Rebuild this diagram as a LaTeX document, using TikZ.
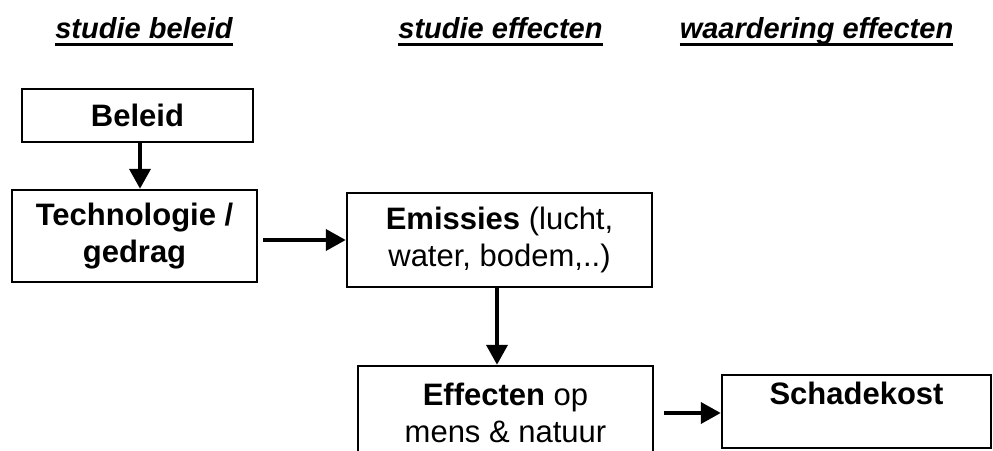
\documentclass[tikz,border=0pt]{standalone}
\usepackage{fontspec}
\setmainfont{Liberation Sans}
\usetikzlibrary{arrows.meta, positioning}

\begin{document}
\begin{tikzpicture}[x=1pt, y=-1pt,
  box/.style={draw, line width=2.5pt, align=center, inner sep=0pt, font=\fontsize{31}{37}\selectfont},
  head/.style={inner sep=0pt, anchor=base, font=\bfseries\itshape\fontsize{29}{35}\selectfont},
  arr/.style={line width=4pt, -{Triangle[length=20pt, width=21pt]}},
  uline/.style={line width=3pt}]
  \useasboundingbox (0,0) rectangle (993,450);
  \clip (0,0) rectangle (993,450);
  % Headers
  \node[head] (hbeleid) at (144,38) {studie beleid};
  \node[head] (heffect) at (500.5,38) {studie effecten};
  \node[head] (hwaarde) at (816.5,38) {waardering effecten};
  \draw[uline] ([yshift=-6.5pt]hbeleid.base west) -- ([yshift=-6.5pt]hbeleid.base east);
  \draw[uline] ([yshift=-6.5pt]heffect.base west) -- ([yshift=-6.5pt]heffect.base east);
  \draw[uline] ([yshift=-6.5pt]hwaarde.base west) -- ([yshift=-6.5pt]hwaarde.base east);
  % Boxes
  \node[box, minimum width=231pt, minimum height=53pt] (beleid) at (137.5,115.5) {\textbf{Beleid}};
  \node[box, minimum width=245pt, minimum height=92pt] (tech) at (134.5,236) {\textbf{Technologie /}\\\textbf{gedrag}};
  \node[box, minimum width=305pt, minimum height=94pt] (emis) at (499.5,240) {\textbf{Emissies} (lucht,\\water, bodem,..)};
  \node[box, minimum width=295pt, minimum height=94pt] (effect) at (505.5,413) {\textbf{Effecten} op\\mens \& natuur};
  \node[box, minimum width=269pt, minimum height=73pt, text height=22pt, text depth=36pt] (schade) at (856.5,411.5) {\textbf{Schadekost}};
  % Arrows
  \draw[arr] ([xshift=2.5pt]beleid.south) -- ([xshift=2.5pt]beleid.south |- tech.north);
  \draw[arr, shorten <=5pt] (tech.east |- emis) -- (emis.west);
  \draw[arr] ([xshift=-2.5pt]emis.south) -- ([xshift=-2.5pt]emis.south |- effect.north);
  \draw[arr, shorten <=10pt] (effect.east) -- (effect.east -| schade.west);
\end{tikzpicture}
\end{document}
